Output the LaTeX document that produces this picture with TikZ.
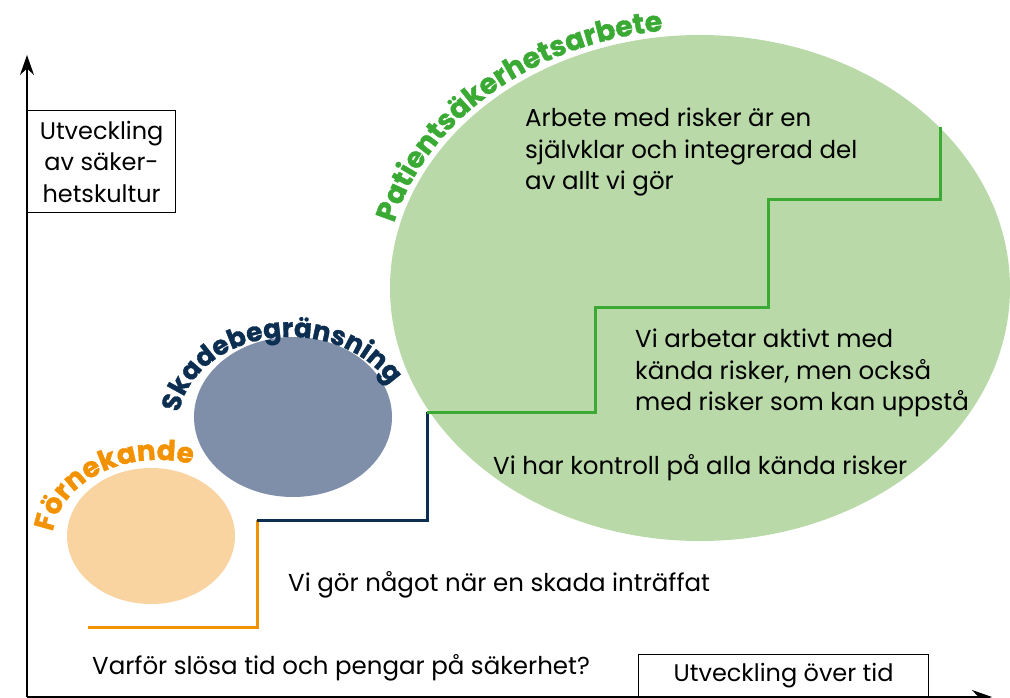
\documentclass[tikz,border=0pt]{standalone}
\usepackage{fontspec}
\setmainfont{Poppins}
\newfontfamily\heavyfont{Poppins}[FakeBold=1.3]
\usetikzlibrary{arrows.meta,positioning,calc,shapes.geometric,decorations.text}
\definecolor{fornOrange}{RGB}{243,146,0}
\definecolor{fornFill}{RGB}{250,212,160}
\definecolor{skadeNavy}{RGB}{12,46,80}
\definecolor{skadeFill}{RGB}{127,143,170}
\definecolor{patGreen}{RGB}{58,170,53}
\definecolor{patFill}{RGB}{185,217,169}
\newcommand\arcfont[2]{\fontsize{#2}{#2}\heavyfont\bfseries\color{#1}}
\tikzset{
  blob/.style={ellipse, inner sep=0pt},
  bodytext/.style={font=\fontsize{24.5}{31.5}\selectfont, align=left, inner sep=0pt},
  axisbox/.style={draw, line width=1.2pt, fill=white, inner sep=0pt, font=\fontsize{24}{31.5}\selectfont, align=center},
  axisline/.style={line width=1.4pt, -{Stealth[length=20pt,width=14pt]}},
  stairline/.style={line width=3pt},
  arclabel/.style={decorate, decoration={text along path, text={#1}}}
}

\begin{document}
\begin{tikzpicture}[x=1pt,y=-1pt]
\useasboundingbox (0,0) rectangle (1010,698);
\node[blob, fill=patFill, minimum width=620, minimum height=506] (patient) at (700,288) {};
\node[blob, fill=skadeFill, minimum width=198, minimum height=160] (skade) at (293,417) {};
\node[blob, fill=fornFill, minimum width=168, minimum height=136] (forn) at (151,536) {};
\path[arclabel={|\arcfont{patGreen}{28.5}|Patientsäkerhetsarbete}]
  ($(700,288)+(194.5:316 and 259)$) arc[start angle=194.5, end angle=300, x radius=316, y radius=259];
\path[arclabel={|\arcfont{skadeNavy}{26.5}|Skadebegränsning}]
  ($(290,425)+(188:112 and 88)$) arc[start angle=188, end angle=360, x radius=112, y radius=88];
\path[arclabel={|\arcfont{fornOrange}{28}|Förnekande}]
  ($(158,542)+(187:106 and 82)$) arc[start angle=187, end angle=340, x radius=106, y radius=82];
\coordinate (o0) at (88,627);
\coordinate (o1) at (257,520);
\coordinate (n1) at (427,412);
\coordinate (g1) at (595,307);
\coordinate (g2) at (768,200);
\coordinate (g3) at (940,127);
\draw[stairline, fornOrange] (o0) -| (o1);
\draw[stairline, skadeNavy] (o1) -| (n1);
\draw[stairline, patGreen] (n1) -| (g1) -| (g2) -| (g3);
\node[bodytext, anchor=north west] (steg4) at (525,108) {Arbete med risker är en\\självklar och integrerad del\\av allt vi gör};
\node[bodytext, anchor=north west] (steg3) at (635,329) {Vi arbetar aktivt med\\kända risker, men också\\med risker som kan uppstå};
\node[bodytext, anchor=base west] (steg2) at (493,474) {Vi har kontroll på alla kända risker};
\node[bodytext, anchor=base west] (steg1) at (288,591) {Vi gör något när en skada inträffat};
\node[bodytext, anchor=base west] (steg0) at (92,674) {Varför slösa tid och pengar på säkerhet?};
\coordinate (origin) at (27,697);
\coordinate (ytip) at (27,55);
\coordinate (xtip) at (992,697);
\draw[axisline] (origin) -- (ytip);
\draw[axisline] (origin) -- (xtip);
\node[axisbox, anchor=north west, minimum width=148, minimum height=102] (ybox) at (27,110) {Utveckling\\av säker-\\hetskultur};
\node[axisbox, anchor=south west, minimum width=290, minimum height=42] (xbox) at (638,697) {Utveckling över tid};
\end{tikzpicture}
\end{document}
